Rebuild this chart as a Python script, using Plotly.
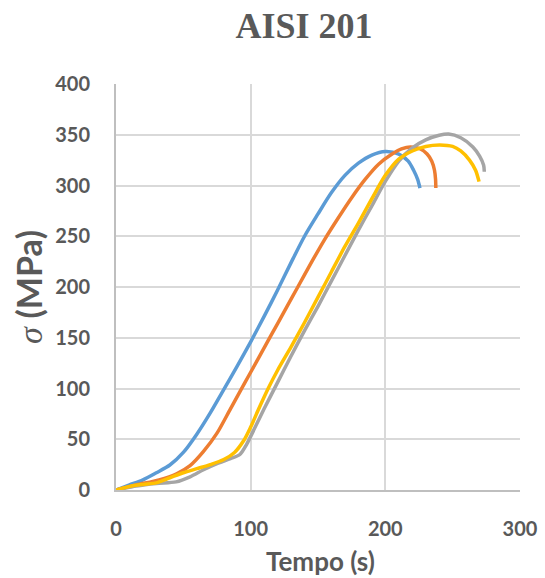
import plotly.graph_objects as go

# Series data (Tempo in s, sigma in MPa)
blue_x = [0, 10, 20, 30, 40, 50, 60, 70, 80, 90, 100, 110, 120, 130, 140, 150, 160, 170, 180, 190, 200, 210, 217, 221, 224, 225.7]
blue_y = [0, 5, 10, 17, 24.6, 37, 55, 76, 99, 122, 146, 171, 197, 224, 250, 272, 293, 310, 322, 330, 333.5, 331, 324, 315, 306, 297.5]

orange_x = [0, 15, 32, 45, 55, 65, 75, 85, 95, 105, 115, 125, 135, 145, 155, 165, 175, 185, 195, 205, 212, 218.6, 226, 231, 234.5, 236.5, 237.3, 237.5]
orange_y = [0, 5, 10, 16, 24, 38, 56, 80, 104, 128, 152, 176, 200, 224, 247, 268, 288, 306, 321, 331, 336, 338, 336, 331, 324, 315, 306, 297.5]

gray_x = [0, 15, 30, 44.6, 55, 65, 75, 85, 92, 97, 103, 110, 120, 130, 140, 150, 160, 170, 180, 190, 200, 210, 220, 230, 240, 247, 256, 265, 270, 273, 273.5]
gray_y = [0, 4, 6.5, 8, 13, 20, 26, 31, 35, 45, 61, 80, 106, 132, 157, 181, 206, 231, 256, 280, 304, 324, 337, 345, 349.5, 350.7, 347, 338, 329, 320, 313.6]

yellow_x = [0, 10, 20, 30, 40, 50, 60, 70, 80, 88, 95, 100, 106, 113, 120, 130, 140, 150, 160, 170, 180, 190, 200, 210, 220, 230, 240.5, 250, 256, 262.5, 267, 269.6]
yellow_y = [0, 3.5, 5.5, 7, 12, 17, 21, 25, 30, 37, 49, 62, 80, 100, 118, 141, 165, 190, 215, 240, 263, 287, 310, 326, 334, 338.5, 340, 338.5, 334, 325, 315, 303.8]

series = [
    ("Série 1", blue_x, blue_y, "#5B9BD5"),
    ("Série 2", orange_x, orange_y, "#ED7D31"),
    ("Série 3", gray_x, gray_y, "#A5A5A5"),
    ("Série 4", yellow_x, yellow_y, "#FFC000"),
]

x_ticks = [0, 100, 200, 300]
y_ticks = [0, 50, 100, 150, 200, 250, 300, 350, 400]

W, H = 545, 578
L, R, T, B = 116, 520, 84, 490  # plot area in pixels


def px_x(px):
    return (px - L) / (R - L)


def px_y(py):
    return (B - py) / (B - T)


fig = go.Figure()
for name, xs, ys, col in series:
    fig.add_trace(go.Scatter(
        x=xs, y=ys, mode="lines", name=name,
        line=dict(color=col, width=3.5, shape="spline", smoothing=0.8),
    ))

txt = "#595959"
fig.update_layout(
    width=W, height=H,
    margin=dict(l=L, r=W - R, t=T, b=H - B, autoexpand=False),
    paper_bgcolor="white", plot_bgcolor="white",
    showlegend=False,
    title=dict(
        text="<b>AISI 201</b>",
        font=dict(family="Liberation Serif", size=36, color=txt),
        x=304 / W, xanchor="center", y=1 - 25 / H, yanchor="middle",
    ),
    font=dict(family="Lato", color=txt),
)
fig.update_xaxes(
    range=[0, 300], tickvals=x_ticks, ticktext=[f"<b>{v}</b>" for v in x_ticks],
    showgrid=True, gridcolor="#D9D9D9", gridwidth=1.5,
    showline=True, linecolor="#BFBFBF", linewidth=2,
    zeroline=False, ticks="", ticklabelstandoff=20, automargin=False,
    tickfont=dict(family="Lato", size=20, color=txt),
)
fig.update_yaxes(
    range=[0, 400], tickvals=y_ticks, ticktext=[f"<b>{v}</b>" for v in y_ticks],
    showgrid=True, gridcolor="#D9D9D9", gridwidth=1.5,
    showline=True, linecolor="#BFBFBF", linewidth=2,
    zeroline=False, ticks="", ticklabelstandoff=20, automargin=False,
    tickfont=dict(family="Lato", size=20, color=txt),
)

fig.add_annotation(
    text="<b>Tempo (s)</b>", xref="paper", yref="paper",
    x=px_x(320), y=px_y(561), xanchor="center", yanchor="middle",
    showarrow=False, font=dict(family="Lato", size=26, color=txt),
)
fig.add_annotation(
    text="<span style='font-family:Liberation Serif'><i>σ</i></span> <b>(MPa)</b>",
    xref="paper", yref="paper", textangle=-90,
    x=px_x(28), y=px_y(287), xanchor="center", yanchor="middle",
    showarrow=False, font=dict(family="Lato", size=34, color=txt),
)

fig.write_html(
    "out.html",
    config={"displayModeBar": False},
    post_script="document.body.style.margin='0';document.body.style.padding='0';document.body.style.overflow='hidden';",
)
